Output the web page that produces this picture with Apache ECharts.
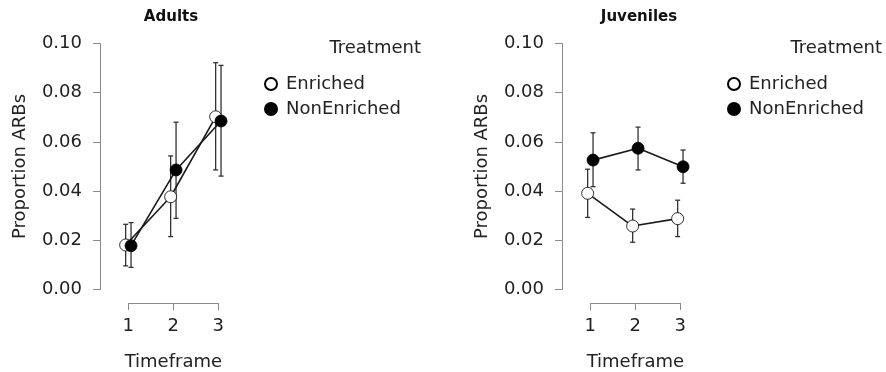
<!DOCTYPE html>
<html>
<head>
<meta charset="utf-8">
<script src="https://cdn.jsdelivr.net/npm/echarts@6/dist/echarts.min.js"></script>
<style>html,body{margin:0;padding:0;background:#fff;}#c{width:886px;height:372px;}</style>
</head>
<body>
<div id="c"></div>
<script>
// ---- data ----
const timeframes = [1, 2, 3];
const panelTitles = ['Adults', 'Juveniles'];
const seriesNames = ['Enriched', 'NonEnriched'];
const yTicks = [0, 0.02, 0.04, 0.06, 0.08, 0.10];

const adultsEnrichedMean  = [0.0181, 0.0377, 0.0702];
const adultsEnrichedLower = [0.0096, 0.0215, 0.0486];
const adultsEnrichedUpper = [0.0265, 0.0543, 0.0922];
const adultsNonMean  = [0.0178, 0.0486, 0.0685];
const adultsNonLower = [0.0090, 0.0289, 0.0461];
const adultsNonUpper = [0.0272, 0.0680, 0.0911];

const juvEnrichedMean  = [0.0391, 0.0258, 0.0288];
const juvEnrichedLower = [0.0293, 0.0192, 0.0215];
const juvEnrichedUpper = [0.0489, 0.0327, 0.0363];
const juvNonMean  = [0.0526, 0.0574, 0.0499];
const juvNonLower = [0.0418, 0.0486, 0.0432];
const juvNonUpper = [0.0637, 0.0660, 0.0567];

const dodge = 0.06;

// ---- layout ----
const FONT = 'DejaVu Sans';
const TXT = '#222';
const AX = '#8a8a8a';
const panels = [
  { yAxisX: 100, legendLeft: 259, treatRight: 465, titleX: 171,
    data: [[adultsEnrichedMean, adultsEnrichedLower, adultsEnrichedUpper],
           [adultsNonMean, adultsNonLower, adultsNonUpper]] },
  { yAxisX: 562, legendLeft: 722, treatRight: 4, titleX: 639,
    data: [[juvEnrichedMean, juvEnrichedLower, juvEnrichedUpper],
           [juvNonMean, juvNonLower, juvNonUpper]] }
];
const xMin = 0.37, unit = 45;

const grid = [], xAxis = [], yAxis = [], series = [], legend = [], title = [], graphic = [];

panels.forEach((p, i) => {
  const gData = grid.length;
  grid.push({ left: p.yAxisX, top: 43.5, width: unit * 3, height: 246, containLabel: false });
  xAxis.push({ gridIndex: gData, type: 'value', min: xMin, max: xMin + 3, show: false });
  yAxis.push({
    gridIndex: gData, type: 'value', min: 0, max: 0.1, interval: 0.02,
    axisLine: { show: true, lineStyle: { color: AX, width: 1 } },
    axisTick: { show: true, length: 7, lineStyle: { color: AX } },
    splitLine: { show: false },
    axisLabel: { margin: 18, fontFamily: FONT, fontSize: 18, color: TXT,
                 formatter: v => v.toFixed(2) },
    name: 'Proportion ARBs', nameLocation: 'middle', nameGap: 71,
    nameTextStyle: { fontFamily: FONT, fontSize: 18, color: TXT }
  });
  const gX = grid.length;
  grid.push({ left: p.yAxisX + (1 - xMin) * unit, top: 290, width: unit * 2, height: 13 });
  xAxis.push({
    gridIndex: gX, type: 'value', min: 1, max: 3, interval: 1, position: 'bottom',
    axisLine: { show: true, lineStyle: { color: AX, width: 1 } },
    axisTick: { show: true, length: 7, lineStyle: { color: AX } },
    splitLine: { show: false },
    axisLabel: { margin: 14, fontFamily: FONT, fontSize: 18, color: TXT },
    name: 'Timeframe', nameLocation: 'middle', nameGap: 50,
    nameTextStyle: { fontFamily: FONT, fontSize: 18, color: TXT }
  });
  yAxis.push({ gridIndex: gX, type: 'value', show: false });

  p.data.forEach((d, s) => {
    const off = s === 0 ? -dodge : dodge;
    series.push({
      type: 'custom', name: seriesNames[s] + ' err', xAxisIndex: gData, yAxisIndex: gData, z: 1,
      data: timeframes.map((t, k) => [t + off, d[1][k], d[2][k]]),
      renderItem: (params, api) => {
        const x = api.value(0);
        const top = api.coord([x, api.value(2)]);
        const bot = api.coord([x, api.value(1)]);
        const w = 2.5;
        const st = { stroke: '#333', lineWidth: 1.3 };
        return { type: 'group', children: [
          { type: 'line', shape: { x1: top[0], y1: top[1], x2: bot[0], y2: bot[1] }, style: st },
          { type: 'line', shape: { x1: top[0] - w, y1: top[1], x2: top[0] + w, y2: top[1] }, style: st },
          { type: 'line', shape: { x1: bot[0] - w, y1: bot[1], x2: bot[0] + w, y2: bot[1] }, style: st }
        ]};
      },
      silent: true
    });
  });
  p.data.forEach((d, s) => {
    const off = s === 0 ? -dodge : dodge;
    series.push({
      type: 'line', name: seriesNames[s], xAxisIndex: gData, yAxisIndex: gData, z: 2 + s,
      data: timeframes.map((t, k) => [t + off, d[0][k]]),
      symbol: 'circle', symbolSize: 12, showSymbol: true,
      lineStyle: { color: '#1a1a1a', width: 1.6 },
      itemStyle: { color: s === 0 ? '#ffffff' : '#000000', borderColor: '#000', borderWidth: 0.8 },
      animation: false
    });
  });

  legend.push({
    data: seriesNames, orient: 'vertical', left: p.legendLeft, top: 70,
    icon: 'circle', itemWidth: 20, itemHeight: 12, itemGap: 7,
    textStyle: { fontFamily: FONT, fontSize: 18, color: TXT, lineHeight: 18 },
    selectedMode: false
  });
  title.push({
    text: panelTitles[i], left: p.titleX, textAlign: 'center', top: 10, padding: 0,
    textStyle: { fontFamily: FONT, fontSize: 15, fontWeight: 'bold', color: '#111' }
  });
  graphic.push({
    type: 'text', right: p.treatRight, top: 39,
    style: { text: 'Treatment', font: '18px "' + FONT + '"', fill: TXT }
  });
});

const chart = echarts.init(document.getElementById('c'), null, { renderer: 'canvas' });
chart.setOption({
  animation: false,
  backgroundColor: '#fff',
  title, grid, xAxis, yAxis, series, legend, graphic
});
</script>
</body>
</html>
